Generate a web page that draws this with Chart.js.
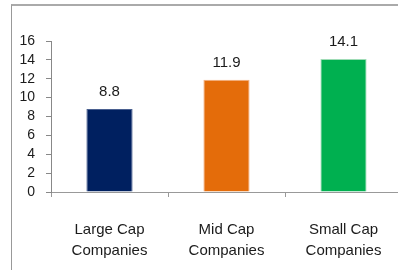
<!DOCTYPE html>
<html lang="en">
<head>
    <meta charset="UTF-8">
    <title>Market cap companies</title>
    <style>
        html, body { margin: 0; padding: 0; overflow: hidden; background: #fff; }
        .frame { position: absolute; left: 11px; top: 4px; width: 500px; height: 400px; border-left: 1px solid #999; border-top: 2px solid #aaa; }
        .chart-box { position: absolute; left: 0; top: 0; width: 404px; height: 270px; }
    </style>
    <script src="https://cdn.jsdelivr.net/npm/chart.js"></script>
</head>
<body>
    <div class="frame"></div>
    <div class="chart-box"><canvas id="capChart"></canvas></div>
    <script>
        const categories = [["Large Cap", "Companies"], ["Mid Cap", "Companies"], ["Small Cap", "Companies"]];
        const values = [8.8, 11.9, 14.1];
        const barColors = ["#002060", "#E46C0A", "#00B050"];
        const barEdges = ["#4a6090", "#f4b183", "#9fdcb6"];
        const yMin = 0, yMax = 16, yStep = 2;

        const textColor = "#1b1b1b";
        const fontFamily = "'Liberation Sans', Arial, sans-serif";

        // draws the numbers above each bar
        const valueLabels = {
            id: "valueLabels",
            afterDatasetsDraw(chart) {
                const ctx = chart.ctx;
                const meta = chart.getDatasetMeta(0);
                ctx.save();
                ctx.font = "15px " + fontFamily;
                ctx.fillStyle = textColor;
                ctx.textAlign = "center";
                ctx.textBaseline = "alphabetic";
                meta.data.forEach((bar, i) => {
                    ctx.fillText(values[i].toFixed(1), bar.x, bar.y - 13);
                });
                ctx.restore();
            }
        };

        new Chart(document.getElementById("capChart"), {
            type: "bar",
            data: {
                labels: categories,
                datasets: [{
                    data: values,
                    backgroundColor: barColors,
                    borderColor: barEdges,
                    borderWidth: 1,
                    categoryPercentage: 1,
                    barPercentage: 0.395
                }]
            },
            options: {
                responsive: true,
                maintainAspectRatio: false,
                animation: false,
                layout: { padding: { top: 41, left: 0, right: 2, bottom: 0 } },
                plugins: { legend: { display: false }, tooltip: { enabled: false } },
                scales: {
                    x: {
                        grid: { offset: true, drawOnChartArea: false, drawTicks: true, tickLength: 5, color: "#999" },
                        border: { color: "#999", width: 1 },
                        ticks: {
                            padding: 22,
                            color: textColor,
                            maxRotation: 0,
                            font: { family: fontFamily, size: 15, lineHeight: 1.4 }
                        },
                        afterFit(scale) { scale.height = 78; }
                    },
                    y: {
                        min: yMin,
                        max: yMax,
                        grid: { drawOnChartArea: false, drawTicks: true, tickLength: 5, color: "#888" },
                        border: { color: "#888", width: 1 },
                        ticks: {
                            stepSize: yStep,
                            autoSkip: false,
                            padding: 11,
                            color: textColor,
                            font: { family: fontFamily, size: 14, lineHeight: 1 }
                        },
                        afterFit(scale) { scale.width = 51; }
                    }
                }
            },
            plugins: [valueLabels]
        });
    </script>
</body>
</html>
